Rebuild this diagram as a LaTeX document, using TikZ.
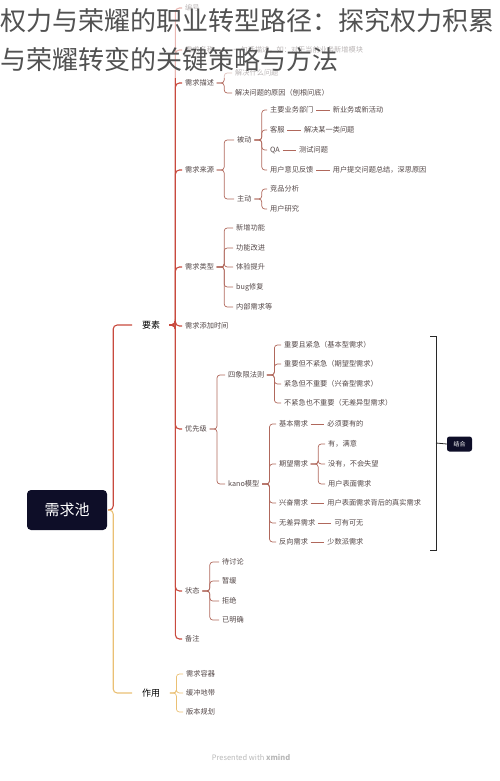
\documentclass[tikz,border=0pt]{standalone}
\usepackage{fontspec}
\setmainfont{Noto Sans CJK SC}
\usetikzlibrary{positioning}
\definecolor{trunkred}{RGB}{200,74,62}
\definecolor{branchred}{RGB}{176,104,92}
\definecolor{usegold}{RGB}{234,192,116}
\definecolor{labelgray}{RGB}{84,72,72}
\definecolor{rootnavy}{RGB}{14,14,40}
\definecolor{sumgray}{RGB}{40,40,40}
\tikzset{
  lbl/.style={anchor=west, inner sep=1pt, text=labelgray, font=\fontsize{7.2}{8}\selectfont},
  main/.style={anchor=west, inner xsep=8pt, inner ysep=2pt, text=black, font=\fontsize{9}{10}\selectfont},
  rootbox/.style={fill=rootnavy, rounded corners=4pt, minimum width=80pt, minimum height=40pt,
    text=white, font=\fontsize{15}{15}\selectfont},
  ttl/.style={anchor=base west, inner sep=0pt, text=black!68, font=\fontsize{26}{26}\selectfont},
  br/.style={to path={-- ++(#1,0) |- (\tikztotarget)}},
  br/.default=9,
  trunk/.style={draw=trunkred, line width=1.1pt, rounded corners=4pt, shorten <=1pt, shorten >=2pt},
  lnk/.style={draw=branchred, line width=0.7pt, rounded corners=3pt, shorten <=1.5pt, shorten >=2pt},
  gold/.style={draw=usegold, line width=1.1pt, rounded corners=4pt, shorten <=1pt, shorten >=2pt},
  goldlnk/.style={draw=usegold, line width=0.7pt, rounded corners=3pt, shorten <=1.5pt, shorten >=2pt},
}
\begin{document}
\begin{tikzpicture}[x=1pt, y=-1pt, node distance=17pt]
  \useasboundingbox (0,0) rectangle (500,781);
  % root and first level
  \node (pool) [rootbox] at (67,510) {需求池};
  \node (ys) [main] at (134,325) {要素};
  \node (zy) [main] at (134,693) {作用};
  % 要素
  \node (bh) [lbl] at (184,8) {编号};
  \node (mc) [lbl] at (184,50) {需求名称};
  \node (mcx) [lbl, right=of mc] {一句话描述，如：对于当前业务新增模块};
  \node (ms) [lbl] at (184,83) {需求描述};
  \node (ms1) [lbl] at (234,73) {解决什么问题};
  \node (ms2) [lbl] at (234,93) {解决问题的原因（刨根问底）};
  \node (ly) [lbl] at (184,170) {需求来源};
  \node (bd) [lbl] at (236,140) {被动};
  \node (bd1) [lbl] at (269,110) {主要业务部门};
  \node (bd1x) [lbl, right=of bd1] {新业务或新活动};
  \node (bd2) [lbl] at (269,130) {客服};
  \node (bd2x) [lbl, right=of bd2] {解决某一类问题};
  \node (bd3) [lbl] at (269,150) {QA};
  \node (bd3x) [lbl, right=of bd3] {测试问题};
  \node (bd4) [lbl] at (269,170) {用户意见反馈};
  \node (bd4x) [lbl, right=of bd4] {用户提交问题总结，深思原因};
  \node (zd) [lbl] at (236,199) {主动};
  \node (zd1) [lbl] at (269,189) {竞品分析};
  \node (zd2) [lbl] at (269,209) {用户研究};
  \node (lx) [lbl] at (184,267) {需求类型};
  \node (lx1) [lbl] at (235,228) {新增功能};
  \node (lx2) [lbl] at (235,248) {功能改进};
  \node (lx3) [lbl] at (235,267) {体验提升};
  \node (lx4) [lbl] at (235,287) {bug修复};
  \node (lx5) [lbl] at (235,307) {内部需求等};
  \node (sj) [lbl] at (184,326) {需求添加时间};
  \node (yx) [lbl] at (184,429) {优先级};
  \node (sx) [lbl] at (227,375) {四象限法则};
  \node (sx1) [lbl] at (283,345) {重要且紧急（基本型需求）};
  \node (sx2) [lbl] at (283,364) {重要但不紧急（期望型需求）};
  \node (sx3) [lbl] at (283,384) {紧急但不重要（兴奋型需求）};
  \node (sx4) [lbl] at (283,403) {不紧急也不重要（无差异型需求）};
  \node (kn) [lbl] at (227,484) {kano模型};
  \node (jb) [lbl] at (278,424) {基本需求};
  \node (jbx) [lbl, right=of jb] {必须要有的};
  \node (qw) [lbl] at (278,464) {期望需求};
  \node (qw1) [lbl] at (327,444) {有，满意};
  \node (qw2) [lbl] at (327,464) {没有，不会失望};
  \node (qw3) [lbl] at (327,484) {用户表面需求};
  \node (xf) [lbl] at (278,503) {兴奋需求};
  \node (xfx) [lbl, right=of xf] {用户表面需求背后的真实需求};
  \node (wc) [lbl] at (278,523) {无差异需求};
  \node (wcx) [lbl, right=of wc] {可有可无};
  \node (fx) [lbl] at (278,542) {反向需求};
  \node (fxx) [lbl, right=of fx] {少数派需求};
  \node (zt) [lbl] at (184,591) {状态};
  \node (zt1) [lbl] at (221,562) {待讨论};
  \node (zt2) [lbl] at (221,581) {暂缓};
  \node (zt3) [lbl] at (221,601) {拒绝};
  \node (zt4) [lbl] at (221,620) {已明确};
  \node (bz) [lbl] at (184,639) {备注};
  % 作用
  \node (zy1) [lbl] at (185,674) {需求容器};
  \node (zy2) [lbl] at (185,693) {缓冲地带};
  \node (zy3) [lbl] at (185,712) {版本规划};
  % summary
  \node (jh) [fill=rootnavy, rounded corners=2.5pt, minimum width=25pt, minimum height=15pt,
    inner sep=0pt, text=white, font=\fontsize{6}{6}\selectfont] at (459.5,444) {结合};
  \coordinate (st) at (430,336);
  \coordinate (sb) at (430,550);
  \coordinate (sm) at (436,443);
  \draw[sumgray, line width=1pt] (st) -- ++(6,0) |- (sb);
  \draw[sumgray, line width=0.8pt] (sm) -- (jh.west);

  \path[trunk] (pool.east) edge[br=6] (ys.west)
               (ys.east) edge[br=7] (bh.west)
               (ys.east) edge[br=7] (mc.west)
               (ys.east) edge[br=7] (ms.west)
               (ys.east) edge[br=7] (ly.west)
               (ys.east) edge[br=7] (lx.west)
               (ys.east) edge[br=7] (sj.west)
               (ys.east) edge[br=7] (yx.west)
               (ys.east) edge[br=7] (zt.west)
               (ys.east) edge[br=7] (bz.west);
  \path[gold] (pool.east) edge[br=6] (zy.west);
  \path[goldlnk] (zy.east) edge[br=8] (zy1.west)
                 (zy.east) edge[br=8] (zy2.west)
                 (zy.east) edge[br=8] (zy3.west);
  \path[lnk] (mc.east) edge (mcx.west)
             (ms.east) edge[br] (ms1.west)
             (ms.east) edge[br] (ms2.west)
             (ly.east) edge[br] (bd.west)
             (ly.east) edge[br] (zd.west)
             (bd.east) edge[br] (bd1.west)
             (bd.east) edge[br] (bd2.west)
             (bd.east) edge[br] (bd3.west)
             (bd.east) edge[br] (bd4.west)
             (bd1.east) edge (bd1x.west)
             (bd2.east) edge (bd2x.west)
             (bd3.east) edge (bd3x.west)
             (bd4.east) edge (bd4x.west)
             (zd.east) edge[br] (zd1.west)
             (zd.east) edge[br] (zd2.west)
             (lx.east) edge[br] (lx1.west)
             (lx.east) edge[br] (lx2.west)
             (lx.east) edge[br] (lx3.west)
             (lx.east) edge[br] (lx4.west)
             (lx.east) edge[br] (lx5.west)
             (yx.east) edge[br] (sx.west)
             (yx.east) edge[br] (kn.west)
             (sx.east) edge[br] (sx1.west)
             (sx.east) edge[br] (sx2.west)
             (sx.east) edge[br] (sx3.west)
             (sx.east) edge[br] (sx4.west)
             (kn.east) edge[br] (jb.west)
             (kn.east) edge[br] (qw.west)
             (kn.east) edge[br] (xf.west)
             (kn.east) edge[br] (wc.west)
             (kn.east) edge[br] (fx.west)
             (jb.east) edge (jbx.west)
             (qw.east) edge[br] (qw1.west)
             (qw.east) edge[br] (qw2.west)
             (qw.east) edge[br] (qw3.west)
             (xf.east) edge (xfx.west)
             (wc.east) edge (wcx.west)
             (fx.east) edge (fxx.west)
             (zt.east) edge[br] (zt1.west)
             (zt.east) edge[br] (zt2.west)
             (zt.east) edge[br] (zt3.west)
             (zt.east) edge[br] (zt4.west);

  % title over the faded top
  \fill[white, opacity=.6] (0,0) rectangle (500,78);
  \node (ttl1) [ttl] at (0,30.5) {权力与荣耀的职业转型路径：探究权力积累};
  \node (ttl2) [ttl] at (0,70) {与荣耀转变的关键策略与方法};
  \node (xm) [text=black!28, font=\fontsize{7.5}{8}\selectfont] at (251,757) {Presented with \textbf{xmind}};
\end{tikzpicture}
\end{document}
